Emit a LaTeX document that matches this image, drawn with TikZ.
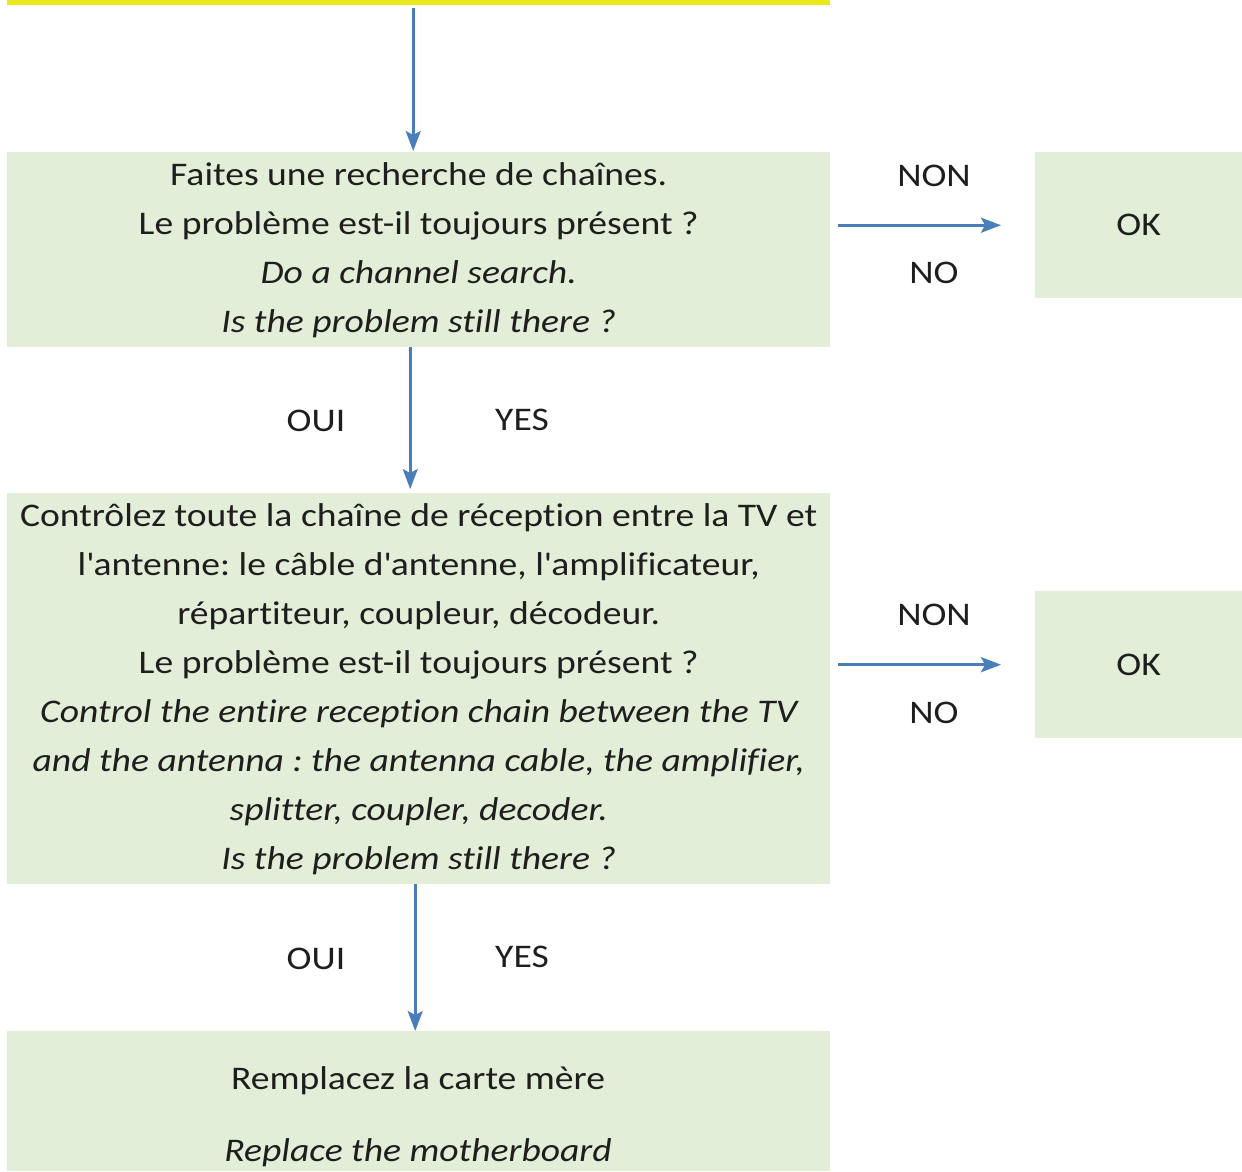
\documentclass[tikz,border=0pt]{standalone}
\usepackage{fontspec}
\setmainfont{Carlito}[FakeStretch=1.14, Ligatures={NoCommon}]
\usetikzlibrary{arrows.meta}
\definecolor{boxgreen}{RGB}{226,238,216}
\definecolor{baryellow}{RGB}{235,232,30}
\definecolor{arrblue}{RGB}{74,126,187}
\definecolor{txt}{RGB}{30,30,30}
\newcommand{\ap}{\textquotesingle}
\frenchspacing
\tikzset{
  box/.style={fill=boxgreen, inner sep=0pt, anchor=north west, text=txt, align=center,
    font=\frenchspacing\fontsize{33}{49}\selectfont},
  lbl/.style={text=txt, font=\fontsize{33}{40}\selectfont, inner sep=0pt},
  arr/.style={draw=arrblue, line width=2.6pt, -{Stealth[length=20pt,width=15pt,inset=4pt]}},
}
\begin{document}
\begin{tikzpicture}[x=1pt,y=-1pt]
\useasboundingbox (0,0) rectangle (1242,1171);
% top yellow bar
\node[fill=baryellow, inner sep=0pt, minimum width=823pt, minimum height=6pt, anchor=north west] (bar) at (7,-1) {};
% boxes
\node[box, minimum width=823pt, minimum height=195pt] (b1) at (7,152) {Faites une recherche de chaînes.\\Le problème est-il toujours présent ?\\\itshape Do a channel search.\\\itshape Is the problem still there ?};
\node[box, minimum width=207pt, minimum height=146pt] (ok1) at (1035,152) {OK};
\node[box, minimum width=823pt, minimum height=391pt] (b2) at (7,493) {Contrôlez toute la chaîne de réception entre la TV et\\l\ap antenne: le câble d\ap antenne, l\ap amplificateur,\\répartiteur, coupleur, décodeur.\\Le problème est-il toujours présent ?\\\itshape Control the entire reception chain between the TV\\\itshape and the antenna : the antenna cable, the amplifier,\\\itshape splitter, coupler, decoder.\\\itshape Is the problem still there ?};
\node[box, minimum width=207pt, minimum height=147pt] (ok2) at (1035,591) {OK};
\node[box, minimum width=823pt, minimum height=140pt] (b3) at (7,1031) {};
\node[text=txt, align=center, inner sep=0pt, font=\fontsize{33}{72}\selectfont] (t3) at (418,1117) {Remplacez la carte mère\\\itshape Replace the motherboard};
% labels
\node[lbl] (non1) at (934,176) {NON};
\node[lbl] (no1) at (934,273) {NO};
\node[lbl] (non2) at (934,615) {NON};
\node[lbl] (no2) at (934,713) {NO};
\node[lbl] (oui1) at (316,421) {OUI};
\node[lbl] (yes1) at (522,420) {YES};
\node[lbl] (oui2) at (316,959) {OUI};
\node[lbl] (yes2) at (522,957) {YES};
% connectors
\draw[arr, shorten <=3pt, shorten >=1pt] ([xshift=-5.5pt]bar.south) -- ([xshift=-5.5pt]b1.north);
\draw[arr, shorten >=4pt] ([xshift=-8.5pt]b1.south) -- ([xshift=-8.5pt]b2.north);
\draw[arr, shorten >=0pt] ([xshift=-3.5pt]b2.south) -- ([xshift=-3.5pt]b3.north);
\draw[arr, shorten <=8pt, shorten >=34pt] (ok1.west -| b1.east) -- (ok1.west);
\draw[arr, shorten <=8pt, shorten >=34pt] (ok2.west -| b2.east) -- (ok2.west);
\end{tikzpicture}
\end{document}
